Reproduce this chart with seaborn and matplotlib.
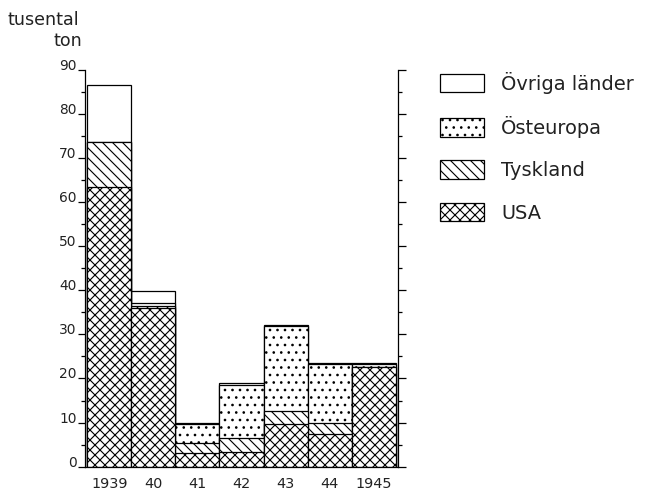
import matplotlib
matplotlib.use("Agg")
import matplotlib.pyplot as plt
import seaborn as sns
import pandas as pd
from matplotlib.patches import Patch
from matplotlib.ticker import MultipleLocator

# ---- data (thousand tons) ----
years = ["1939", "40", "41", "42", "43", "44", "1945"]
usa = [63.4, 35.9, 3.0, 3.4, 9.7, 7.5, 22.5]
tyskland = [10.2, 0.4, 2.4, 3.0, 3.0, 2.3, 0.2]
osteuropa = [0.0, 0.9, 4.3, 12.1, 19.2, 13.5, 0.5]
ovriga = [13.0, 2.7, 0.2, 0.4, 0.1, 0.2, 0.2]
series_names = ["USA", "Tyskland", "Östeuropa", "Övriga länder"]
y_ticks = [0, 10, 20, 30, 40, 50, 60, 70, 80, 90]
unit_label_1 = "tusental"
unit_label_2 = "ton"

hatches = {"USA": "xxx", "Tyskland": "\\\\\\", "Östeuropa": "..", "Övriga länder": ""}

sns.set_style("ticks")
plt.rcParams["font.family"] = ["DejaVu Sans"]
plt.rcParams["hatch.linewidth"] = 0.9
plt.rcParams["hatch.color"] = "black"
plt.rcParams["text.color"] = "#222222"
plt.rcParams["xtick.color"] = "black"
plt.rcParams["ytick.color"] = "black"
plt.rcParams["xtick.labelcolor"] = "#222222"
plt.rcParams["ytick.labelcolor"] = "#222222"

DPI = 90
W, H = 646, 491
fig = plt.figure(figsize=(W / DPI, H / DPI), dpi=DPI)
ax = fig.add_axes([85 / W, 1 - 466.7 / H, (398 - 85) / W, (466.7 - 69.5) / H])

df = pd.DataFrame({"year": years, "USA": usa, "Tyskland": tyskland,
                   "Östeuropa": osteuropa, "Övriga länder": ovriga})
cum = df[series_names].cumsum(axis=1)
cum["year"] = df["year"]

# draw layers from the top (total) down to the base, each occluding the next
for name in reversed(series_names):
    n_before = len(ax.patches)
    sns.barplot(data=cum, x="year", y=name, order=years, color="white",
                saturation=1, edgecolor="black", linewidth=1.0, width=1.0,
                ax=ax)
    for p in ax.patches[n_before:]:
        p.set_hatch(hatches[name])
        p.set_facecolor("white")
        p.set_edgecolor("black")

ax.set_xlim(-0.55, 6.55)
ax.set_ylim(0, 90)
ax.set_xlabel("")
ax.set_ylabel("")
ax.set_yticks(y_ticks)
ax.yaxis.set_minor_locator(MultipleLocator(5))
ax.yaxis.set_ticks_position("both")
ax.tick_params(axis="y", which="major", direction="out", length=6, width=1,
               labelsize=11, pad=0.5, right=True, labelright=False)
ax.tick_params(axis="y", which="minor", direction="out", length=3.5, width=1,
               right=True)
ax.tick_params(axis="x", length=0, pad=8, labelsize=11.5)
for t in ax.yaxis.get_major_ticks():
    t.label1.set_verticalalignment("baseline")

for s in ["left", "right", "bottom"]:
    ax.spines[s].set_linewidth(1.0)
    ax.spines[s].set_color("black")
ax.spines["top"].set_visible(False)

fig.text(8 / W, 1 - 25 / H, unit_label_1, fontsize=14, va="baseline", ha="left")
fig.text(53 / W, 1 - 46 / H, unit_label_2, fontsize=14, va="baseline", ha="left")

handles = [Patch(facecolor="white", edgecolor="black", linewidth=1.0,
                 hatch=hatches[n]) for n in reversed(series_names)]
labels = list(reversed(series_names))
fs = 15.5
hpx = fs * DPI / 72
ax.legend(handles, labels, loc="upper left",
          bbox_to_anchor=(440 / W, 1 - 71.5 / H), bbox_transform=fig.transFigure,
          frameon=False, fontsize=fs, borderpad=0, borderaxespad=0,
          handlelength=44 / hpx, handleheight=21 / hpx, labelspacing=22.5 / hpx,
          handletextpad=17 / hpx)

fig.savefig("out.png", dpi=DPI)
